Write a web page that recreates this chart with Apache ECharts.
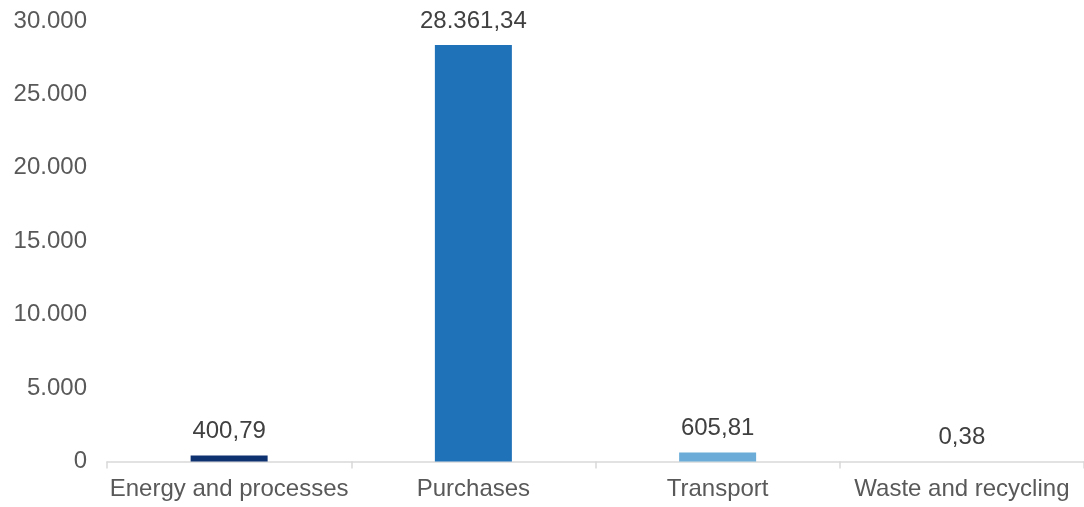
<!DOCTYPE html>
<html>
<head>
<meta charset="utf-8">
<script src="https://cdn.jsdelivr.net/npm/echarts@6/dist/echarts.min.js"></script>
<style>
  html, body { margin: 0; padding: 0; background: #ffffff; }
  #chart { width: 1084px; height: 507px; }
</style>
</head>
<body>
<div id="chart"></div>
<script>
// Emissions by source category
const categories = ['Energy and processes', 'Purchases', 'Transport', 'Waste and recycling'];
const values = [400.79, 28361.34, 605.81, 0.38];
const barColors = ['#0E3170', '#1F71B8', '#6BADD8', '#9DC3E6'];
const yTicks = [0, 5000, 10000, 15000, 20000, 25000, 30000];

// Thousands with '.', decimals with ','
function fmtThousands(v) {
  return String(Math.round(v)).replace(/\B(?=(\d{3})+(?!\d))/g, '.');
}
function fmtValue(v) {
  const parts = v.toFixed(2).split('.');
  return parts[0].replace(/\B(?=(\d{3})+(?!\d))/g, '.') + ',' + parts[1];
}

const chart = echarts.init(document.getElementById('chart'));
chart.setOption({
  animation: false,
  grid: { left: 107, right: -5, top: 21, bottom: 45.5, containLabel: false },
  xAxis: {
    type: 'category',
    data: categories,
    axisLine: { lineStyle: { color: '#D9D9D9', width: 1.5 } },
    axisTick: { show: true, length: 7, lineStyle: { color: '#D9D9D9', width: 1.5 } },
    axisLabel: {
      color: '#595959',
      fontFamily: 'Liberation Sans, Arial, sans-serif',
      fontSize: 24,
      margin: 16,
      interval: 0
    }
  },
  yAxis: {
    type: 'value',
    min: yTicks[0],
    max: yTicks[yTicks.length - 1],
    interval: yTicks[1] - yTicks[0],
    axisLine: { show: false },
    axisTick: { show: false },
    splitLine: { show: false },
    axisLabel: {
      color: '#595959',
      fontFamily: 'Liberation Sans, Arial, sans-serif',
      fontSize: 24,
      margin: 20,
      formatter: fmtThousands
    }
  },
  series: [{
    type: 'bar',
    barWidth: 77,
    data: values.map((v, i) => ({ value: v, itemStyle: { color: barColors[i] } })),
    label: {
      show: true,
      position: 'top',
      distance: 12,
      color: '#404040',
      fontFamily: 'Liberation Sans, Arial, sans-serif',
      fontSize: 24,
      formatter: p => fmtValue(p.value)
    }
  }]
});
</script>
</body>
</html>
